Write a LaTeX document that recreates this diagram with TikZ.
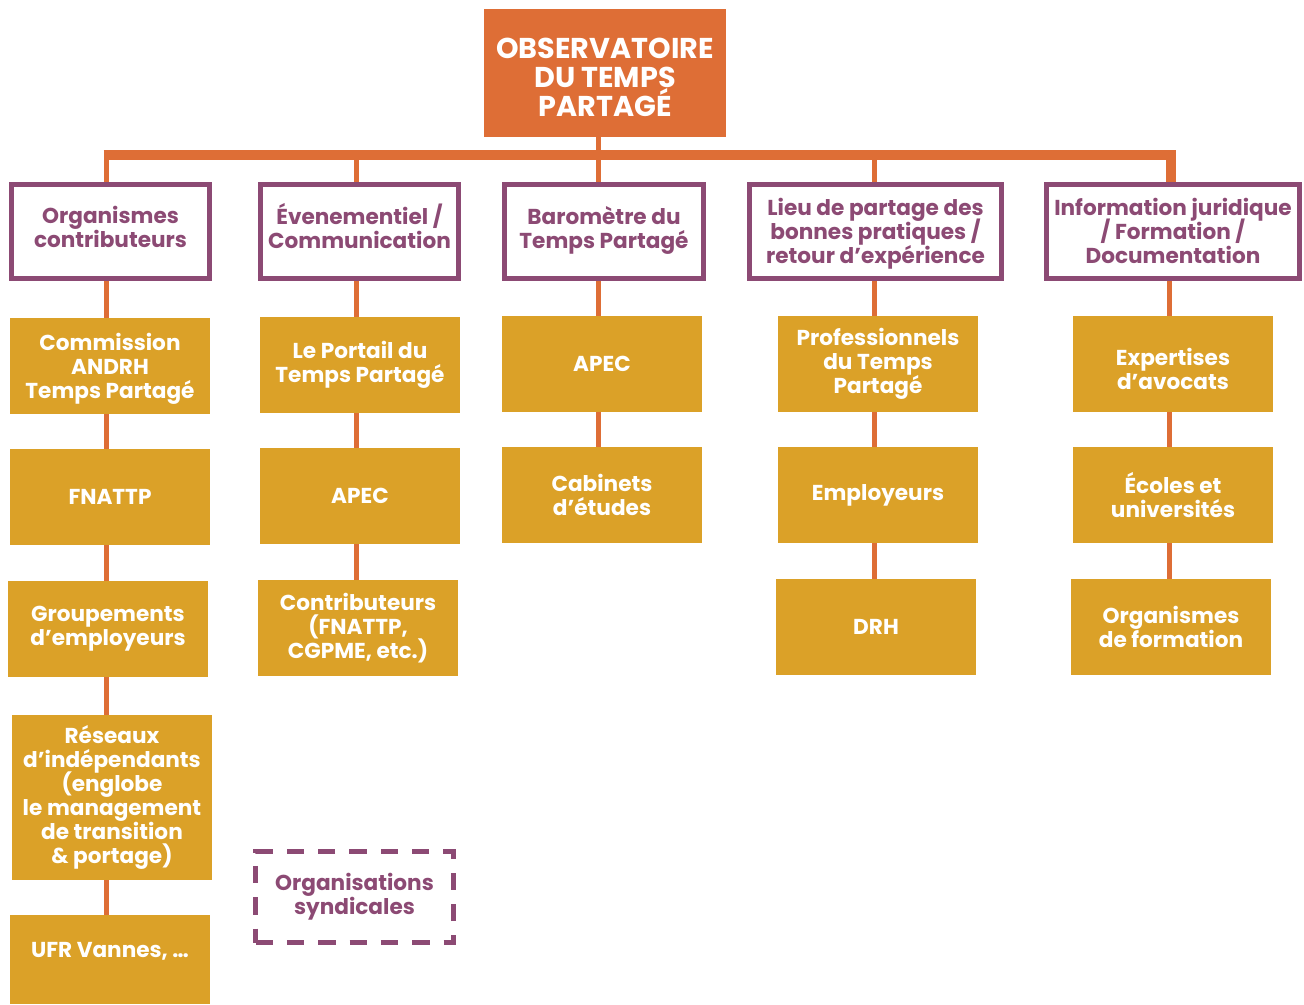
\documentclass[tikz,border=0pt]{standalone}
\usepackage{fontspec}
\setmainfont{Poppins}
\definecolor{obsorange}{HTML}{DE6E36}
\definecolor{goldc}{HTML}{DBA128}
\definecolor{purp}{HTML}{8C4A74}
\newcommand\upstrut[1]{\rule{0pt}{#1}}
\newcommand\lowstrut[1]{\rule[-#1]{0pt}{0pt}}
\newcommand\tightlines{\setlength{\lineskiplimit}{-20pt}\setlength{\lineskip}{0pt}}
\begin{document}
\begin{tikzpicture}[x=0.75pt,y=-0.75pt,
  txt/.style={font=\bfseries\fontsize{16.2}{18}\selectfont\tightlines, align=center, inner sep=0pt},
  goldbox/.style={txt, fill=goldc, text=white, minimum width=150pt, minimum height=72pt},
  purplebox/.style={txt, draw=purp, line width=3.75pt, fill=white, text=purp, minimum height=70.5pt},
  conn/.style={draw=obsorange, line width=3.75pt},
  bar/.style={draw=obsorange, line width=7.5pt}]
\useasboundingbox (0,0) rectangle (1304,1004);

% top
\node[fill=obsorange, text=white, font=\bfseries\fontsize{21.5}{21.75}\selectfont\tightlines, align=center, inner sep=0pt,
  minimum width=181.5pt, minimum height=96pt] (top) at (605,73) {\upstrut{1.0em}OBSERVATOIRE\\DU TEMPS\\PARTAGÉ};

% purple headers
\node[purplebox, minimum width=148.5pt] (p1) at (110.5,231.5) {Organismes\\contributeurs\lowstrut{0.45em}};
\node[purplebox, minimum width=148.5pt] (p2) at (359.5,231) {Évenementiel /\\Communication\lowstrut{0.5em}};
\node[purplebox, minimum width=149.25pt] (p3) at (604,231) {Baromètre du\\Temps Partagé\lowstrut{0.35em}};
\node[purplebox, minimum width=189pt] (p4) at (875.5,231) {\upstrut{1.02em}Lieu de partage des\\bonnes pratiques /\\retour d’expérience};
\node[purplebox, minimum width=189.75pt] (p5) at (1173,231) {Information juridique\\/ Formation /\\Documentation};

% column 1
\node[goldbox] (c1a) at (110,366) {\upstrut{1.05em}Commission\\ANDRH\\Temps Partagé};
\node[goldbox] (c1b) at (110,497) {FNATTP};
\node[goldbox] (c1c) at (108,629) {Groupements\\d’employeurs};
\node[goldbox, minimum height=123.75pt] (c1d) at (112,797.5) {Réseaux\\d’indépendants\\(englobe\\le management\\de transition\\\& portage)};
\node[goldbox, minimum height=66.75pt, text depth=14pt] (c1e) at (110,959.5) {UFR Vannes, …};

% column 2
\node[goldbox] (c2a) at (360,365) {Le Portail du\\Temps Partagé};
\node[goldbox] (c2b) at (360,496) {APEC};
\node[goldbox] (c2c) at (358,628) {Contributeurs\\(FNATTP,\\CGPME, etc.)};
\node[txt, text=purp, draw=purp, line width=3.75pt, dash pattern=on 13pt off 10.5pt,
  minimum width=148.5pt, minimum height=68.25pt] (c2d) at (354.5,897) {Organisations\\syndicales};

% column 3
\node[goldbox] (c3a) at (602,364) {APEC};
\node[goldbox] (c3b) at (602,495) {Cabinets\\d’études};

% column 4
\node[goldbox] (c4a) at (878,364) {Professionnels\\du Temps\\Partagé};
\node[goldbox] (c4b) at (878,495) {Employeurs};
\node[goldbox] (c4c) at (876,627) {DRH};

% column 5
\node[goldbox] (c5a) at (1173,364) {\upstrut{1.25em}Expertises\\d’avocats};
\node[goldbox] (c5b) at (1173,495) {Écoles et\\universités};
\node[goldbox] (c5c) at (1171,627) {Organismes\\de formation};

% column x positions and bar
\coordinate (x1) at (106,0);
\coordinate (x2) at (356,0);
\coordinate (x3) at (598,0);
\coordinate (x4) at (874,0);
\coordinate (x5) at (1169,0);
\coordinate (barL) at (106,155);
\coordinate (barR) at (1171,155);

% top connectors
\draw[conn] (top.south -| x3) -- (x3 |- barL);
\draw[conn] (p1.north -| barL) -- ([yshift=2.8pt]barL);
\draw[bar] ([xshift=-1.875pt]barL) -- (barR) -- (p5.north -| barR);
\draw[conn] (x2 |- barL) -- (p2.north -| x2);
\draw[conn] (x3 |- barL) -- (p3.north -| x3);
\draw[conn] (x4 |- barL) -- (p4.north -| x4);

% column connectors
\draw[conn] (p1.south -| x1) -- (c1a.north -| x1);
\draw[conn] (c1a.south -| x1) -- (c1b.north -| x1);
\draw[conn] (c1b.south -| x1) -- (c1c.north -| x1);
\draw[conn] (c1c.south -| x1) -- (c1d.north -| x1);
\draw[conn] (c1d.south -| x1) -- (c1e.north -| x1);

\draw[conn] (p2.south -| x2) -- (c2a.north -| x2);
\draw[conn] (c2a.south -| x2) -- (c2b.north -| x2);
\draw[conn] (c2b.south -| x2) -- (c2c.north -| x2);

\draw[conn] (p3.south -| x3) -- (c3a.north -| x3);
\draw[conn] (c3a.south -| x3) -- (c3b.north -| x3);

\draw[conn] (p4.south -| x4) -- (c4a.north -| x4);
\draw[conn] (c4a.south -| x4) -- (c4b.north -| x4);
\draw[conn] (c4b.south -| x4) -- (c4c.north -| x4);

\draw[conn] (p5.south -| x5) -- (c5a.north -| x5);
\draw[conn] (c5a.south -| x5) -- (c5b.north -| x5);
\draw[conn] (c5b.south -| x5) -- (c5c.north -| x5);
\end{tikzpicture}
\end{document}
